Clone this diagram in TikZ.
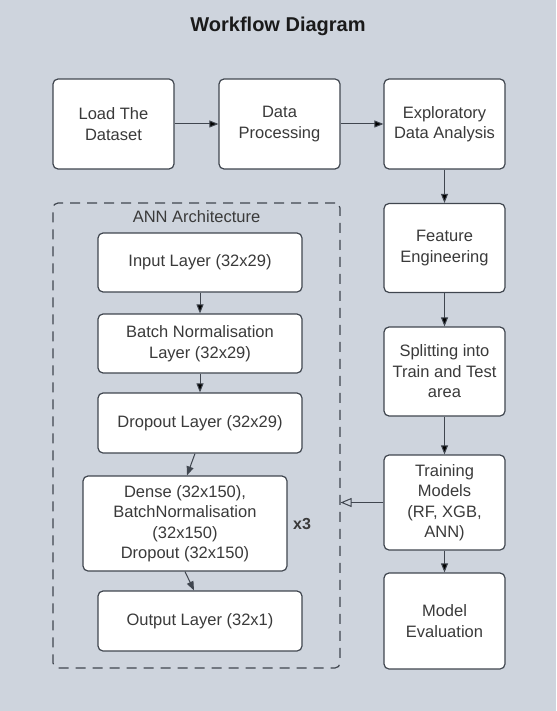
\documentclass[tikz,border=0pt]{standalone}
\usepackage{fontspec}
\setmainfont{Liberation Sans}
\usetikzlibrary{arrows.meta, positioning}

\definecolor{bgcol}{RGB}{206,212,221}
\definecolor{linecol}{RGB}{64,70,79}
\definecolor{txtcol}{RGB}{58,58,58}

\begin{document}
\begin{tikzpicture} [x=1pt, y=1pt, on grid,
    box/.style = {draw=linecol, line width=1.2pt, rounded corners=5pt, fill=white,
                  text=txtcol, align=center, font=\fontsize{16.5}{20.5}\selectfont,
                  minimum width=121pt, minimum height=90pt, inner sep=2pt},
    layer/.style = {box, minimum width=204pt, minimum height=59pt},
    arr/.style = {-{Triangle[length=9pt, width=7pt]}, draw=linecol, line width=1pt}]

    \fill [bgcol] (0,0) rectangle (556,-711);
    \useasboundingbox (0,0) rectangle (556,-711);

    \node (title) at (278,-26) {\fontsize{20}{24}\selectfont\bfseries\color[RGB]{26,26,26}Workflow Diagram};

    % top row and right column
    \node (load) [box] at (113.5,-124) {Load The\\Dataset};
    \node (proc) [box, right = 166pt of load] {Data\\Processing};
    \node (eda) [box, right = 165pt of proc] {Exploratory\\Data Analysis};
    \node (feat) [box, below = 124pt of eda, minimum height=89pt] {Feature\\Engineering};
    \node (split) [box, below = 123.5pt of feat, minimum height=89pt] {Splitting into\\Train and Test\\area};
    \node (train) [box, below = 131pt of split, minimum height=95pt] {Training\\Models\\(RF, XGB,\\ANN)};
    \node (eval) [box, below = 118.5pt of train, minimum height=96pt] {Model\\Evaluation};

    % ANN block
    \node (ann) [draw=linecol, line width=1.2pt, dash pattern=on 10pt off 7pt, rounded corners=5pt,
                 minimum width=287pt, minimum height=465pt] at (196.5,-435.5) {};
    \node (anntitle) [text=txtcol, font=\fontsize{16.5}{20}\selectfont] at (196.5,-217) {ANN Architecture};
    \node (inp) [layer] at (200,-262.5) {Input Layer (32x29)};
    \node (bn) [layer, below = 81pt of inp] {Batch Normalisation\\Layer (32x29)};
    \node (drop) [layer, below = 79.5pt of bn, minimum height=60pt] {Dropout Layer (32x29)};
    \node (dense) [layer, below = 100.5pt of drop, xshift=-15pt, minimum height=95pt] {Dense (32x150),\\BatchNormalisation\\(32x150)\\Dropout (32x150)};
    \node (out) [layer, below = 97.5pt of dense, xshift=15pt, minimum height=60pt] {Output Layer (32x1)};
    \node (rep) [text=txtcol, font=\fontsize{16}{19}\selectfont\bfseries, right = 117pt of dense] {x3};

    \path [arr] (load) edge (proc);
    \path [arr] (proc) edge (eda);
    \path [arr] (eda) edge (feat);
    \path [arr] (feat) edge (split);
    \path [arr] (split) edge (train);
    \path [arr] (train) edge (eval);

    \path [arr] (inp) edge (bn);
    \path [arr] (bn) edge (drop);
    \draw [arr] ([xshift=-5pt]drop.south) -- ([xshift=2pt]dense.north);
    \draw [arr] (dense.south) -- ([xshift=-6pt]out.north);

    \draw [-{Triangle[open, length=11pt, width=9pt]}, draw=linecol, line width=1pt] (train.west) -- (ann.east |- train.west);
\end{tikzpicture}
\end{document}
